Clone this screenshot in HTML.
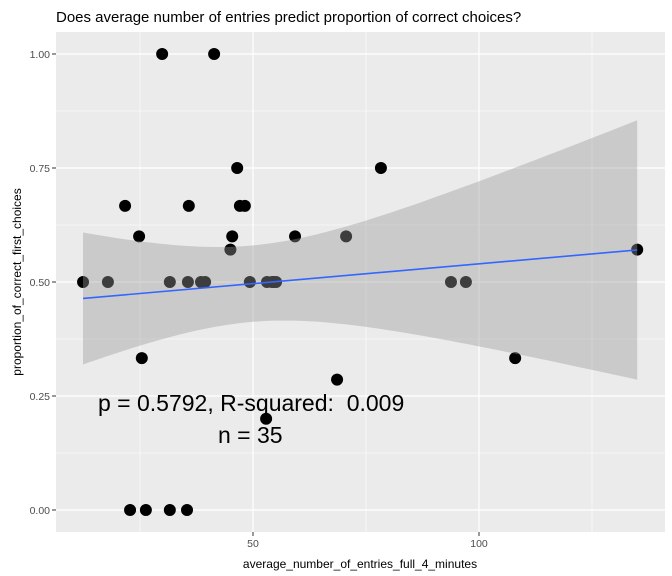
<!DOCTYPE html>
<html><head><meta charset="utf-8"><style>
body{margin:0;background:#fff;}
svg{display:block;font-family:"Liberation Sans",sans-serif;}
</style></head><body>
<svg id="chart" width="672" height="576" xmlns="http://www.w3.org/2000/svg">
<rect width="672" height="576" fill="#fff"/>
<text x="56" y="22" font-size="15" fill="#000">Does average number of entries predict proportion of correct choices?</text>
<rect x="56" y="32" width="609" height="500" fill="#ebebeb"/>
<g id="grid"></g>
<g id="pts"></g>
<g id="band"></g>
<g id="axes"></g>
<text x="98" y="411" font-size="23" fill="#000">p = 0.5792, R-squared:&#160; 0.009</text>
<text x="218" y="443" font-size="23" fill="#000">n = 35</text>
<text x="360" y="568" font-size="12" text-anchor="middle" fill="#000">average_number_of_entries_full_4_minutes</text>
<text transform="translate(21,282) rotate(-90)" font-size="12" text-anchor="middle" fill="#000">proportion_of_correct_first_choices</text>
</svg>
<script>
const xVals=[12.4,17.9,21.7,24.8,25.4,22.8,26.3,29.9,31.6,31.6,35.4,35.6,35.8,38.5,39.4,41.4,45,45.4,46.5,47.1,48.2,49.3,52.9,53.1,54.2,55.1,59.3,68.6,70.6,78.3,93.8,97.1,108,135,54.6];
const yVals=[0.5,0.5,0.667,0.6,0.333,0,0,1,0,0.5,0,0.5,0.667,0.5,0.5,1,0.571,0.6,0.75,0.667,0.667,0.5,0.2,0.5,0.5,0.5,0.6,0.286,0.6,0.75,0.5,0.5,0.333,0.571,0.5];
const xTicks=[50,100];
const xMinor=[25,75,125];
const yTicks=[0,0.25,0.5,0.75,1];
const yTickLabels=["0.00","0.25","0.50","0.75","1.00"];
const NS="http://www.w3.org/2000/svg";
const X=v=>253+(v-50)*4.52;
const Y=v=>510-v*456;
const P={l:56,r:665,t:32,b:532};
function mk(tag,attrs,parent){const e=document.createElementNS(NS,tag);for(const k in attrs)e.setAttribute(k,attrs[k]);parent.appendChild(e);return e;}
const grid=document.getElementById('grid'),axes=document.getElementById('axes');
for(let i=0;i<yTicks.length-1;i++){const m=(yTicks[i]+yTicks[i+1])/2;
 const l=mk('line',{x1:P.l,x2:P.r,y1:Y(m),y2:Y(m),stroke:'#fff','stroke-width':0.6},grid);
 
 }
xMinor.forEach(v=>{const l=mk('line',{x1:X(v),x2:X(v),y1:P.t,y2:P.b,stroke:'#fff','stroke-width':0.6},grid);
 
 });
yTicks.forEach((v,i)=>{const l=mk('line',{x1:P.l,x2:P.r,y1:Y(v),y2:Y(v),stroke:'#fff','stroke-width':1.2},grid);
 
 
 const tk=mk('line',{x1:P.l-4,x2:P.l,y1:Y(v),y2:Y(v),stroke:'#333'},axes);
 
 
 const t=mk('text',{x:P.l-6,y:Y(v)+4,'font-size':10.5,'text-anchor':'end',fill:'#4d4d4d'},axes);t.textContent=yTickLabels[i];
 
 });
xTicks.forEach(v=>{const l=mk('line',{x1:X(v),x2:X(v),y1:P.t,y2:P.b,stroke:'#fff','stroke-width':1.2},grid);
 
 
 const tk=mk('line',{x1:X(v),x2:X(v),y1:P.b,y2:P.b+4,stroke:'#333'},axes);
 
 
 const t=mk('text',{x:X(v),y:P.b+15,'font-size':10.5,'text-anchor':'middle',fill:'#4d4d4d'},axes);t.textContent=v;
 
 });
const pts=document.getElementById('pts');
xVals.forEach((x,i)=>{const c=mk('circle',{cx:X(x),cy:Y(yVals[i]),r:6,fill:'#000'},pts);
 
 });
const n=xVals.length,mx=xVals.reduce((a,b)=>a+b)/n,my=yVals.reduce((a,b)=>a+b)/n;
let sxx=0,sxy=0;xVals.forEach((x,i)=>{sxx+=(x-mx)**2;sxy+=(x-mx)*(yVals[i]-my);});
const b=sxy/sxx,a=my-b*mx;let sse=0;xVals.forEach((x,i)=>{sse+=(yVals[i]-a-b*x)**2;});
const s=Math.sqrt(sse/(n-2)),tq=2.035;
const x0=Math.min(...xVals),x1=Math.max(...xVals);
let up=[],lo=[];
for(let k=0;k<=80;k++){const x=x0+(x1-x0)*k/80,f=a+b*x,se=s*Math.sqrt(1/n+(x-mx)**2/sxx);
 up.push(X(x).toFixed(1)+','+Y(f+tq*se).toFixed(1));lo.unshift(X(x).toFixed(1)+','+Y(f-tq*se).toFixed(1));}
const band=document.getElementById('band');
const pg=mk('polygon',{points:up.concat(lo).join(' '),fill:'#999',opacity:0.4},band);


const ln=mk('line',{x1:X(x0),y1:Y(a+b*x0),x2:X(x1),y2:Y(a+b*x1),stroke:'#3366ff','stroke-width':1.6},band);


</script>
</body></html>
